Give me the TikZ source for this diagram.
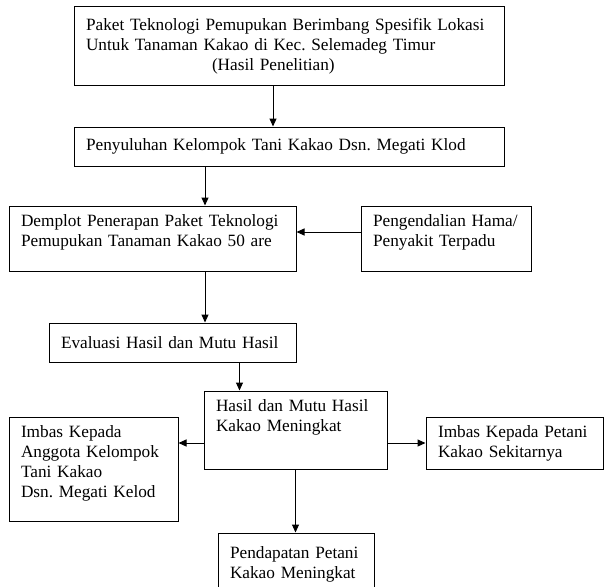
\documentclass[tikz,border=0pt]{standalone}
\usepackage{fontspec}
\setmainfont{Liberation Serif}
\usetikzlibrary{arrows.meta,positioning}
\newcommand{\padbot}[1]{\rule[-#1]{0pt}{#1}}
\frenchspacing

\begin{document}
\begin{tikzpicture}[x=1pt,y=-1pt,->,>={Triangle[length=8pt,width=7pt]},line width=1pt,
  box/.style={rectangle,draw,inner xsep=12pt,inner ysep=0pt,align=left,font=\fontsize{17.25}{20}\selectfont}]
\useasboundingbox (0,0) rectangle (604,586);
\node[box,minimum width=430pt,minimum height=78pt,text width=406pt] (paket) at (289,46)
  {Paket Teknologi Pemupukan Berimbang Spesifik Lokasi\\Untuk Tanaman Kakao di Kec. Selemadeg Timur\\\hspace*{126pt}(Hasil Penelitian)};
\node[box,minimum width=430pt,minimum height=39pt,text width=406pt] (penyuluhan) at (289,146.5)
  {Penyuluhan Kelompok Tani Kakao Dsn. Megati Klod};
\node[box,minimum width=287pt,minimum height=65pt,text width=263pt] (demplot) at (152.5,238.5)
  {Demplot Penerapan Paket Teknologi\\Pemupukan Tanaman Kakao 50 are\padbot{16pt}};
\node[box,minimum width=170pt,minimum height=65pt,text width=146pt] (hama) at (446,238.5)
  {Pengendalian Hama/\\Penyakit Terpadu\padbot{16pt}};
\node[box,minimum width=247pt,minimum height=39pt,text width=223pt] (evaluasi) at (172.5,342.5)
  {Evaluasi Hasil dan Mutu Hasil};
\node[box,minimum width=183pt,minimum height=78pt,text width=159pt] (hasil) at (295.5,430)
  {Hasil dan Mutu Hasil\\Kakao Meningkat\padbot{28pt}};
\node[box,minimum width=169pt,minimum height=104pt,text width=145pt] (anggota) at (93.5,469)
  {Imbas Kepada\\Anggota Kelompok\\Tani Kakao\\Dsn. Megati Kelod\padbot{14pt}};
\node[box,minimum width=177pt,minimum height=52pt,text width=153pt] (sekitar) at (514.5,443)
  {Imbas Kepada Petani\\Kakao Sekitarnya};
\node[box,minimum width=156pt,minimum height=62pt,text width=132pt] (pendapatan) at (296,564)
  {Pendapatan Petani\\Kakao Meningkat};
\draw ([xshift=-16pt]paket.south) -- ([xshift=-16pt]paket.south |- penyuluhan.north);
\draw ([xshift=52.5pt]demplot.north |- penyuluhan.south) -- ([xshift=52.5pt]demplot.north);
\draw ([yshift=6.5pt]hama.west) -- ([yshift=6.5pt]demplot.east);
\draw ([xshift=52.5pt]demplot.south) -- ([xshift=52.5pt]demplot.south |- evaluasi.north);
\draw ([xshift=67pt]evaluasi.south) -- ([xshift=67pt]evaluasi.south |- hasil.north);
\draw ([yshift=-13pt]hasil.west) -- ([yshift=-13pt]hasil.west -| anggota.east);
\draw (hasil.east |- sekitar.west) -- (sekitar.west);
\draw (hasil.south) -- (hasil.south |- pendapatan.north);
\end{tikzpicture}
\end{document}
